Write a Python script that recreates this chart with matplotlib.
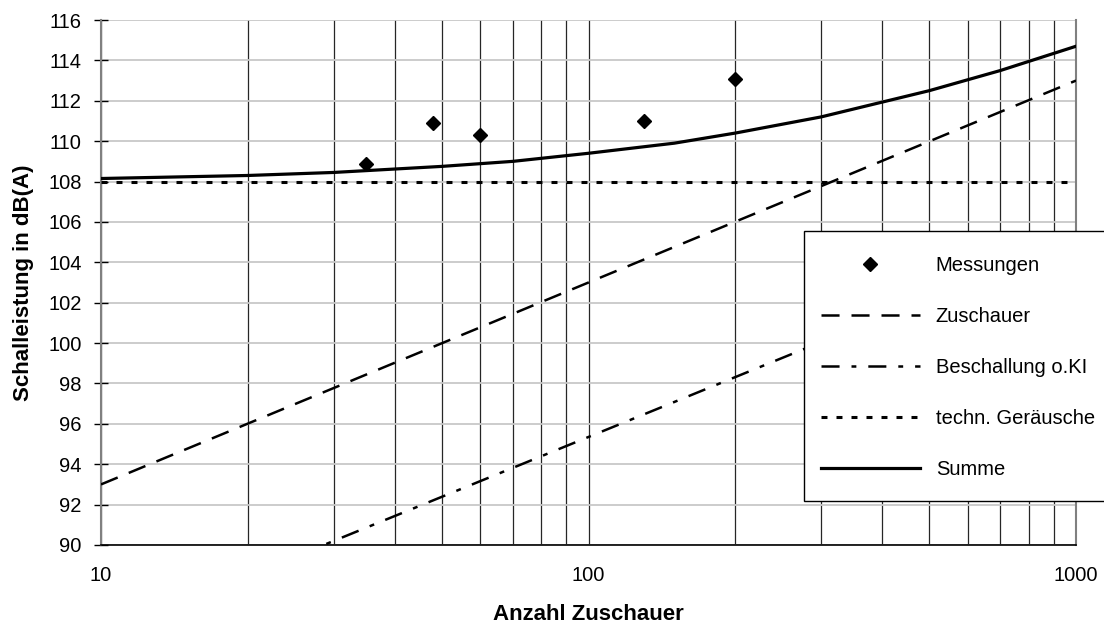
import matplotlib
matplotlib.use("Agg")
import matplotlib.pyplot as plt
from matplotlib.patches import Rectangle
from matplotlib.ticker import LogLocator, NullFormatter

plt.rcParams['font.family'] = ['Liberation Sans', 'DejaVu Sans']
plt.rcParams['lines.scale_dashes'] = False

# Data
mess_x = [35, 48, 60, 130, 200]
mess_y = [108.85, 110.9, 110.3, 111.0, 113.1]

zuschauer_x = [10, 1000]
zuschauer_y = [93.0, 113.0]

beschallung_x = [10, 1000]
beschallung_y = [85.5, 105.2]

technik_x = [10, 1000]
technik_y = [108.0, 108.0]

summe_x = [10, 20, 30, 50, 70, 100, 150, 200, 300, 500, 700, 1000]
summe_y = [108.15, 108.3, 108.45, 108.75, 109.0, 109.4, 109.9, 110.4, 111.2, 112.5, 113.5, 114.7]

x_ticks = [10, 100, 1000]
x_ticklabels = ["10", "100", "1000"]
y_ticks = list(range(90, 117, 2))

fs = 14.5
lfs = 16
W, H = 1104, 625
fig = plt.figure(figsize=(W/100, H/100), dpi=100)
ax = fig.add_axes([101/W, 1-545/H, (1076-101)/W, (545-20)/H])

ax.set_xscale('log')
ax.set_xlim(10, 1000)
ax.set_ylim(90, 116)

ax.set_yticks(y_ticks)
ax.set_xticks(x_ticks)
ax.set_xticklabels(x_ticklabels)
ax.xaxis.set_minor_locator(LogLocator(base=10, subs=range(2, 10)))
ax.xaxis.set_minor_formatter(NullFormatter())
ax.grid(True, axis='y', which='major', color='#c8c8c8', lw=1.3, zorder=0)
ax.grid(True, axis='x', which='both', color='#262626', lw=0.9, zorder=0)
ax.set_axisbelow(True)

l_s, = ax.plot(summe_x, summe_y, color='black', lw=2.3, label='Summe', zorder=3)
l_z, = ax.plot(zuschauer_x, zuschauer_y, color='black', lw=1.8, label='Zuschauer', zorder=3)
l_z.set_dashes([13, 8.6])
l_b, = ax.plot(beschallung_x, beschallung_y, color='black', lw=1.8, label='Beschallung o.KI', zorder=3)
l_b.set_dashes([13, 8.6, 3.5, 8.6])
l_t, = ax.plot(technik_x, technik_y, color='black', lw=2.2, label='techn. Geräusche', zorder=3)
l_t.set_dashes([4.3, 6.5])
l_m, = ax.plot(mess_x, mess_y, ls='none', marker='D', ms=7.5, color='black', label='Messungen', zorder=4)

ax.spines['top'].set_visible(False)
ax.spines['left'].set_color('#808080')
ax.spines['left'].set_linewidth(1.5)
ax.spines['right'].set_color('#808080')
ax.spines['right'].set_linewidth(1.5)
ax.spines['bottom'].set_color('black')
ax.spines['bottom'].set_linewidth(1.2)

ax.tick_params(axis='y', which='major', direction='inout', length=10, width=1, color='black', pad=9, labelsize=fs)
ax.tick_params(axis='x', which='both', length=0, pad=15, labelsize=fs)

ax.set_xlabel('Anzahl Zuschauer', fontsize=lfs, fontweight='bold', labelpad=14)
ax.set_ylabel('Schalleistung in dB(A)', fontsize=lfs, fontweight='bold', labelpad=10)

# legend frame (extends past the right edge like the original)
frame = Rectangle((804/W, 1-500.7/H), (1120-804)/W, (500.7-230.7)/H,
                  transform=fig.transFigure, facecolor='white', edgecolor='black',
                  lw=1.0, zorder=5)
fig.add_artist(frame)

handles = [l_m, l_z, l_b, l_t, l_s]
leg = fig.legend(handles=handles, labels=[h.get_label() for h in handles],
                 loc='upper left', bbox_to_anchor=(821/W, 1-256.3/H),
                 fontsize=fs, frameon=False,
                 borderpad=0, labelspacing=1.59, handlelength=4.9,
                 handletextpad=0.8, borderaxespad=0)
leg.set_zorder(10)

fig.savefig('out.png', dpi=100)
